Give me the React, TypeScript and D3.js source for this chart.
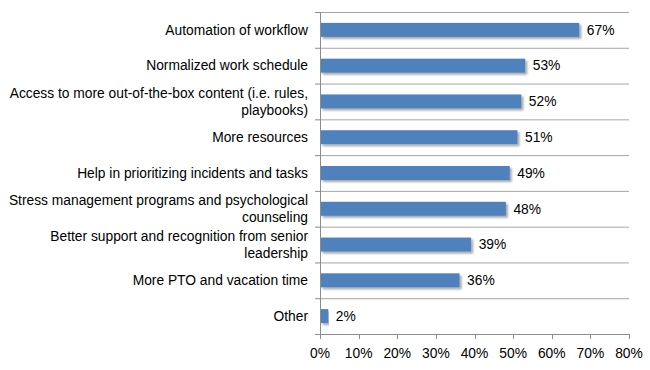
import React from "react";
import * as d3 from "d3";

const categories: string[][] = [
  ["Automation of workflow"],
  ["Normalized work schedule"],
  ["Access to more out-of-the-box content (i.e. rules,", "playbooks)"],
  ["More resources"],
  ["Help in prioritizing incidents and tasks"],
  ["Stress management programs and psychological", "counseling"],
  ["Better support and recognition from senior", "leadership"],
  ["More PTO and vacation time"],
  ["Other"],
];
const values: number[] = [67, 53, 52, 51, 49, 48, 39, 36, 2];
const xTicks: number[] = [0, 10, 20, 30, 40, 50, 60, 70, 80];

const W = 650;
const H = 370;
const left = 320;
const right = 629;
const top = 12;
const bottom = 334;

export default function App() {
  const x = d3.scaleLinear().domain([0, 80]).range([left, right]);
  const y = d3
    .scaleBand<number>()
    .domain(d3.range(categories.length))
    .range([top, bottom]);
  const bw = y.bandwidth();
  const barH = 14;
  const fs = 13.8;
  const font = "'Liberation Sans', Arial, sans-serif";
  const boundaries = d3.range(categories.length + 1).map((i) => top + i * bw);

  return (
    <svg
      width={W}
      height={H}
      style={{ position: "absolute", left: 0, top: 0, background: "#fff" }}
      fontFamily={font}
    >
      <defs>
        <filter id="sh" x="-5%" y="-30%" width="115%" height="190%">
          <feGaussianBlur in="SourceAlpha" stdDeviation="1" />
          <feOffset dx="1.5" dy="1.5" result="b" />
          <feComponentTransfer>
            <feFuncA type="linear" slope="0.35" />
          </feComponentTransfer>
          <feMerge>
            <feMergeNode />
            <feMergeNode in="SourceGraphic" />
          </feMerge>
        </filter>
      </defs>
      {boundaries.slice(0, -1).map((b, i) => (
        <line
          key={"g" + i}
          x1={left}
          x2={right}
          y1={b + 0.5}
          y2={b + 0.5}
          stroke="#a6a6a6"
          strokeWidth={1}
        />
      ))}
      {boundaries.map((b, i) => (
        <line
          key={"yt" + i}
          x1={left - 5}
          x2={left}
          y1={b + 0.5}
          y2={b + 0.5}
          stroke="#8c8c8c"
        />
      ))}
      {values.map((v, i) => {
        const cy = (y(i) as number) + bw / 2;
        return (
          <g key={"b" + i}>
            <rect
              x={left + 0.5}
              y={cy - barH / 2}
              width={Math.max(0, x(v) - left)}
              height={barH}
              fill="#4f81bd"
              filter="url(#sh)"
            />
            <text x={x(v) + 8} y={cy} dy="0.35em" fontSize={fs} fill="#000">
              {v}%
            </text>
          </g>
        );
      })}
      {categories.map((lines, i) => {
        const cy = (y(i) as number) + bw / 2;
        const lh = 16.5;
        const start = cy - ((lines.length - 1) * lh) / 2;
        return (
          <text key={"c" + i} x={308} textAnchor="end" fontSize={fs} fill="#000">
            {lines.map((l, j) => (
              <tspan key={j} x={308} y={start + j * lh} dy="0.35em">
                {l}
              </tspan>
            ))}
          </text>
        );
      })}
      <line x1={left + 0.5} x2={left + 0.5} y1={top} y2={bottom + 0.5} stroke="#8c8c8c" />
      <line x1={left} x2={right} y1={bottom + 0.5} y2={bottom + 0.5} stroke="#8c8c8c" />
      {xTicks.map((t) => (
        <g key={"xt" + t}>
          <line
            x1={Math.round(x(t)) + 0.5}
            x2={Math.round(x(t)) + 0.5}
            y1={bottom}
            y2={bottom + 5}
            stroke="#8c8c8c"
          />
          <text
            x={x(t)}
            y={bottom + 19}
            dy="0.35em"
            textAnchor="middle"
            fontSize={fs}
            fill="#000"
          >
            {t}%
          </text>
        </g>
      ))}
    </svg>
  );
}
